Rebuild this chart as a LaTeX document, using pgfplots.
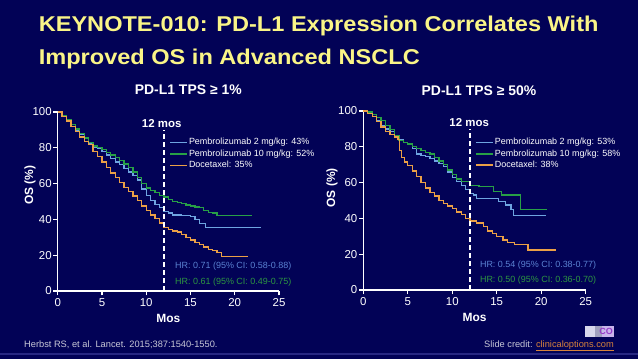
\documentclass[border=0pt]{standalone}
\usepackage{fontspec}
\setmainfont{Liberation Sans}
\usepackage{graphicx}
\usepackage{pgfplots}
\pgfplotsset{compat=1.18}

\definecolor{bg}{RGB}{2,2,86}
\definecolor{ttl}{RGB}{250,245,135}
\definecolor{cblue}{RGB}{110,165,225}
\definecolor{cgreen}{RGB}{40,160,70}
\definecolor{corange}{RGB}{235,160,70}
\definecolor{hrblue}{RGB}{90,130,210}
\definecolor{hrgreen}{RGB}{45,150,65}
\definecolor{foot}{RGB}{200,200,215}
\definecolor{linkc}{RGB}{215,130,60}

\pgfplotsset{
 every axis title shift=0pt,
 kmaxis/.style={
  scale only axis, height=179bp,
  xmin=0,xmax=25,ymin=0,ymax=100,
  axis x line*=bottom, axis y line*=left,
  axis line style={white, line width=1.1bp},
  xtick={0,5,...,25}, ytick={0,20,...,100},
  tick align=outside, major tick length=4.3bp,
  tick style={white, line width=1.1bp},
  ticklabel style={font=\fontsize{11.5}{12}\selectfont, text=white},
  yticklabel style={inner sep=1.5bp},
  /pgf/number format/assume math mode=true,
  clip=false,
  xlabel={Mos}, ylabel={OS (\%)},
  label style={font=\bfseries\fontsize{12}{13}\selectfont, text=white},
  title style={font=\bfseries\fontsize{14}{15}\selectfont, text=white, anchor=base},
  every axis plot/.append style={line width=1.3bp},
  legend image code/.code={\draw[#1] (0bp,0bp) -- (17bp,0bp);},
  legend style={draw=none, fill=none, anchor=north west,
    font=\fontsize{9}{10}\selectfont, inner sep=0pt,
    nodes={text=white, text height=6.8bp, text depth=2.2bp, inner sep=1.2bp}},
  legend cell align=left,
 }
}

\begin{document}
\begin{tikzpicture}
\fill[bg] (0,0) rectangle (638bp,359bp);
\useasboundingbox (0,0) rectangle (638bp,359bp);
\draw[color={rgb,255:red,40;green,40;blue,130}, line width=1.5bp] (0,5bp) -- (638bp,5bp);

\node[anchor=base west, inner sep=0, text=ttl, font=\bfseries\fontsize{21.5}{26}\selectfont] at (38.6bp,327.3bp) {\scalebox{1.10}[1]{KEYNOTE-010: PD-L1 Expression Correlates With}};
\node[anchor=base west, inner sep=0, text=ttl, font=\bfseries\fontsize{21.5}{26}\selectfont] at (38.6bp,294bp) {\scalebox{1.10}[1]{Improved OS in Advanced NSCLC}};

% Left panel
\begin{axis}[kmaxis, width=221.3bp, at={(57.7bp,68bp)}, anchor=south west,
  title={PD-L1 TPS ≥ 1\%}, title style={at={(axis description cs:0.59,1.095)}},
  xlabel style={at={(axis description cs:0.5,-0.156)}, anchor=center},
  ylabel style={at={(axis description cs:-0.125,0.592)}, anchor=center},
  legend style={at={(axis description cs:0.503,0.862)}}]
\addlegendimage{draw=cblue, line width=1.6bp}
\addlegendimage{draw=cgreen, line width=1.6bp}
\addlegendimage{draw=corange, line width=1.6bp}
\legend{Pembrolizumab 2 mg/kg: 43\%, Pembrolizumab 10 mg/kg: 52\%, Docetaxel: 35\%}
\addplot[cblue, const plot, forget plot] coordinates {
(0,100)(0.5,98)(1,95.5)(1.5,93)(2,90)(2.5,87.5)(3,85)(3.5,82.5)(4,80.5)(4.5,79.5)
(5,78)(5.5,76)(6,74)(6.5,72)(7,70.5)(7.5,68.5)(8,66.5)(8.5,64.5)(9,62)(9.5,57)
(10,53.5)(10.5,50.5)(11,48.5)(11.5,46.5)(12,44.5)(12.5,43.5)(13,42.5)(14,42)(15,41.5)
(15.5,40)(16,37.8)(16.7,35.6)(23,35.6)};
\addplot[cgreen, const plot, forget plot] coordinates {
(0,100)(0.5,98)(1,95.5)(1.5,93)(2,90.5)(2.5,88)(3,85.5)(3.5,83)(4,81)(4.5,80)
(5,79)(5.5,77.5)(6,76)(6.5,74.5)(7,73)(7.5,71)(8,69)(8.5,66.5)(9,63.5)(9.5,60)
(10,57.5)(10.5,56)(11,55)(11.5,53.5)(12,52.5)(12.5,51)(13,50)(13.5,49.5)(14,49)
(14.5,48)(15,47.5)(15.5,47)(16,46.5)(16.5,45)(17,44)(17.5,43.5)(18,42)(21.9,42)};
\addplot[corange, const plot, forget plot] coordinates {
(0,100)(0.5,97.5)(1,95)(1.5,92)(2,89)(2.5,86)(3,83.5)(3.5,82)(4,78)(4.5,75)
(5,72)(5.5,69)(6,66)(6.5,63.5)(7,60.5)(7.5,58)(8,55.5)(8.5,53)(9,50.5)(9.5,47.5)
(10,45)(10.5,42.5)(11,40.5)(11.5,38)(12,35.5)(12.5,34.5)(13,33.5)(13.5,33)(14,31.5)
(14.5,30)(15,28.5)(15.5,27)(16,26)(16.5,24.5)(17,23)(17.5,22.5)(18,21.5)(18.5,19.2)(21.5,19.2)};
\addplot[white, dash pattern=on 5bp off 3bp, line width=1.2bp, forget plot] coordinates {(12,0)(12,90)};
\node[anchor=base, inner sep=0, text=white, font=\bfseries\fontsize{11.5}{12}\selectfont] at (axis cs:11.75,91.2) {12 mos};
\node[anchor=west, inner sep=0, text=hrblue, font=\fontsize{9}{10}\selectfont] at (axis cs:13.25,13.6) {HR: 0.71 (95\% CI: 0.58-0.88)};
\node[anchor=west, inner sep=0, text=hrgreen, font=\fontsize{9}{10}\selectfont] at (axis cs:13.25,5.2) {HR: 0.61 (95\% CI: 0.49-0.75)};
\end{axis}

% Right panel
\begin{axis}[kmaxis, width=222.4bp, at={(363.3bp,69bp)}, anchor=south west,
  title={PD-L1 TPS ≥ 50\%}, title style={at={(axis description cs:0.52,1.089)}},
  xlabel style={at={(axis description cs:0.5,-0.151)}, anchor=center},
  ylabel style={at={(axis description cs:-0.141,0.57)}, anchor=center},
  legend style={at={(axis description cs:0.502,0.857)}}]
\addlegendimage{draw=cblue, line width=1.6bp}
\addlegendimage{draw=cgreen, line width=1.6bp}
\addlegendimage{draw=corange, line width=1.6bp}
\legend{Pembrolizumab 2 mg/kg: 53\%, Pembrolizumab 10 mg/kg: 58\%, Docetaxel: 38\%}
\addplot[cblue, const plot, forget plot] coordinates {
(0,100)(0.5,99)(1,97)(1.5,94.5)(2,92)(2.5,90)(3,88.5)(3.5,86)(4,84)(4.5,82.5)
(5,81.5)(5.5,79)(6,76)(6.5,75)(7,74.5)(7.5,73.5)(8,72)(8.5,70.5)(9,69)(9.5,66)
(10,63)(10.5,60.5)(11,58.5)(11.5,56)(12,54)(12.4,53)(12.7,51.2)(15.2,49.3)(16,47.5)
(16.6,45)(16.9,41.5)(20.5,41.5)};
\addplot[cgreen, const plot, forget plot] coordinates {
(0,100)(0.5,99.5)(1,98)(1.5,96.5)(2,94.5)(2.5,92)(3,89.5)(3.5,86)(4,83.5)(4.5,82.5)
(5,81.5)(5.5,80)(6,79)(6.5,78)(7,77)(7.5,76)(8,74)(8.5,72)(9,70)(9.5,67)
(10,64.5)(10.5,62)(11,60.5)(12,58.5)(13,58)(14,57.7)(14.6,55)(15.5,53)(17.7,45)(20.6,45)};
\addplot[corange, const plot, forget plot] coordinates {
(0,100)(0.5,98.5)(1,97)(1.5,94)(2,91)(2.5,88.5)(3,87)(3.5,85.5)(3.9,84)(4.1,78)
(4.3,74)(4.6,71.5)(5,69.5)(5.5,66.5)(6,63.5)(6.5,60)(7,57)(7.5,54.5)(8,52.5)(8.5,50)
(9,48.5)(9.5,47)(10,45.5)(10.5,43.5)(11,42)(11.5,40)(12,38.5)(12.7,37.5)(13.5,35.5)
(14,33)(14.5,31.5)(15,30)(15.7,28)(16.2,26.5)(17,25.5)(18.5,22.3)(21.7,22.3)};
\addplot[white, dash pattern=on 5bp off 3bp, line width=1.2bp, forget plot] coordinates {(12,0)(12,90)};
\node[anchor=base, inner sep=0, text=white, font=\bfseries\fontsize{11.5}{12}\selectfont] at (axis cs:11.9,91.6) {12 mos};
\node[anchor=west, inner sep=0, text=hrblue, font=\fontsize{9}{10}\selectfont] at (axis cs:13.1,14) {HR: 0.54 (95\% CI: 0.38-0.77)};
\node[anchor=west, inner sep=0, text=hrgreen, font=\fontsize{9}{10}\selectfont] at (axis cs:13.1,5.6) {HR: 0.50 (95\% CI: 0.36-0.70)};
\end{axis}

% footer
\node[anchor=base west, inner sep=0, text=foot, font=\fontsize{9.3}{10}\selectfont] at (24bp,12bp) {Herbst RS, et al. Lancet. 2015;387:1540-1550.};
\node[anchor=base east, inner sep=0, text=foot, font=\fontsize{9.3}{10}\selectfont] at (614bp,12bp) {Slide credit: \textcolor{linkc}{\underline{clinicaloptions.com}}};
\fill[color={rgb,255:red,215;green,215;blue,235}] (585bp,22bp) rectangle (595bp,33bp);
\fill[color={rgb,255:red,160;green,160;blue,190}] (595bp,22bp) rectangle (602bp,33bp);
\fill[color={rgb,255:red,200;green,180;blue,235}] (602bp,22bp) rectangle (614bp,33bp);
\node[anchor=center, inner sep=0, text={rgb,255:red,150;green,60;blue,200}, font=\bfseries\fontsize{9}{9}\selectfont] at (606bp,27.5bp) {CO};
\end{tikzpicture}
\end{document}
